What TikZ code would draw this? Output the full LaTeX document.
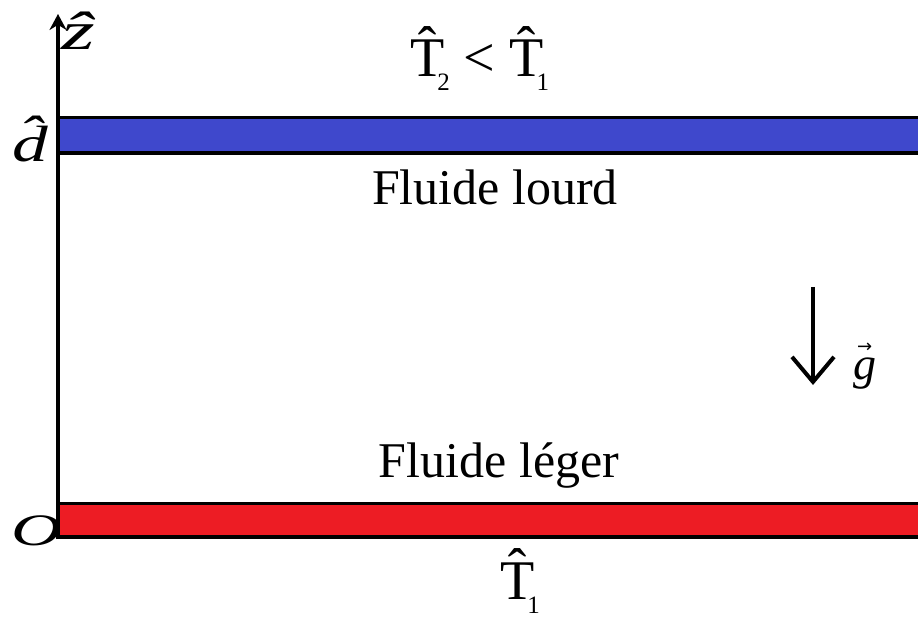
\documentclass[tikz,border=0pt]{standalone}
\usepackage{fontspec}
\setmainfont{Liberation Serif}
\newfontfamily\symfont{DejaVu Sans}
\usetikzlibrary{arrows.meta}
\definecolor{plateblue}{RGB}{63,72,204}
\definecolor{platered}{RGB}{237,28,36}
\newcommand{\hatT}[1]{\^{T}\kern-7pt\raisebox{-14pt}{\fontsize{25}{25}\selectfont #1}}
\begin{document}
\begin{tikzpicture}[x=1pt,y=-1pt,
  plate/.style={draw=black, line width=3.5pt},
  axisline/.style={line width=3.5pt, -{Stealth[length=16pt,width=17pt]}},
  gravity/.style={line width=4pt, -{Straight Barb[length=25pt,width=42pt]}},
  lbl/.style={inner sep=0pt, anchor=base, font=\fontsize{50}{50}\selectfont},
  temp/.style={inner sep=0pt, anchor=base west, font=\fontsize{56}{56}\selectfont},
  sym/.style={inner sep=0pt, anchor=base west}]
\useasboundingbox (0,0) rectangle (918,617);
% plates
\path[plate, fill=plateblue] (58,117.5) rectangle (940,153);
\path[plate, fill=platered] (58,503.5) rectangle (940,537);
% axis
\coordinate (origin) at (58,539);
\coordinate (ztop) at (58,14);
\draw[axisline] (origin) -- (ztop);
% gravity
\coordinate (gstart) at (813,287);
\coordinate (gend) at (813,385);
\draw[gravity] (gstart) -- (gend);
% labels
\node[sym, font=\fontsize{54}{54}\selectfont] (zlab) at (61,50) {\scalebox{1.6}[1]{\textit{\^z}}};
\node[sym, font=\fontsize{51}{51}\selectfont] (dlab) at (12,162) {\scalebox{1.4}[1]{\textit{\^d}}};
\node[sym, font=\fontsize{45}{45}\selectfont] (olab) at (11,545) {\scalebox{1.55}[1]{\textit{O}}};
\node[temp] (ttop) at (410,77) {\hatT{2} < \hatT{1}};
\node[temp] (tbot) at (500,599) {\hatT{1}};
\node[lbl] (heavy) at (495,205) {Fluide lourd};
\node[lbl] (light) at (499,477) {Fluide léger};
\node[sym, font=\fontsize{46}{46}\selectfont] (glab) at (853,380)
  {\ooalign{\textit{g}\cr\hidewidth\raisebox{27pt}{\fontsize{18}{18}\symfont →}\hidewidth\cr}};
\end{tikzpicture}
\end{document}
